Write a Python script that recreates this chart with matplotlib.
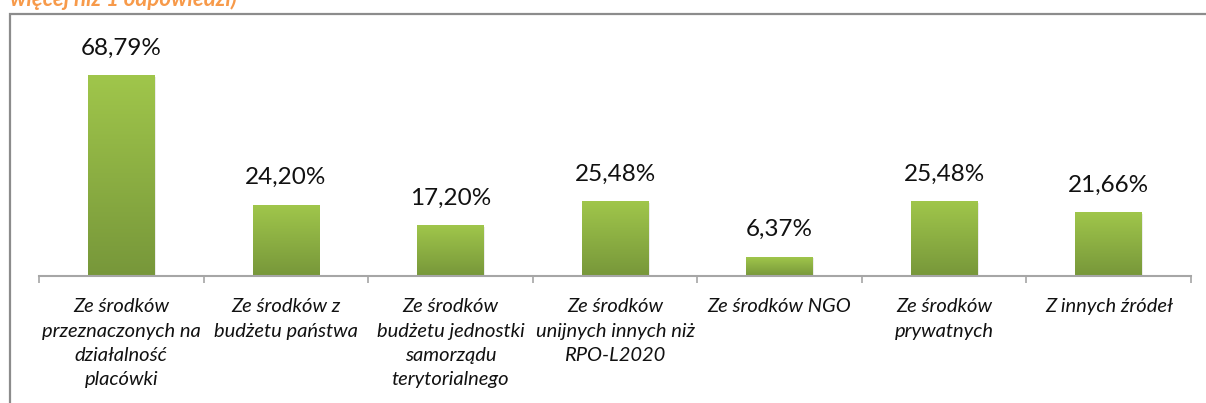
import numpy as np
import matplotlib
matplotlib.use("Agg")
import matplotlib.pyplot as plt
from matplotlib.colors import LinearSegmentedColormap
from matplotlib.patches import Rectangle

categories = [
    "Ze środków\nprzeznaczonych na\ndziałalność\nplacówki",
    "Ze środków z\nbudżetu państwa",
    "Ze środków\nbudżetu jednostki\nsamorządu\nterytorialnego",
    "Ze środków\nunijnych innych niż\nRPO-L2020",
    "Ze środków NGO",
    "Ze środków\nprywatnych",
    "Z innych źródeł",
]
values = [68.79, 24.20, 17.20, 25.48, 6.37, 25.48, 21.66]
value_labels = ["68,79%", "24,20%", "17,20%", "25,48%", "6,37%", "25,48%", "21,66%"]
title_fragment = "więcej niż 1 odpowiedzi)"

plt.rcParams['font.family'] = ['Lato', 'DejaVu Sans']

W, H = 1206, 403
fig = plt.figure(figsize=(W / 100, H / 100), dpi=100)
fig.patch.set_facecolor("white")

# outer border box (extends beyond right/bottom edges)
fig.patches.append(Rectangle((10 / W, -0.1), 1.2, (H - 14) / H + 0.1,
                             transform=fig.transFigure, fill=False,
                             edgecolor="#8c8c8c", linewidth=1.6))
# cut-off title fragment
fig.text(10 / W, 1 - 5.5 / H, title_fragment, color="#F79A4A", fontsize=16,
         fontweight="bold", fontstyle="italic", va="baseline", ha="left")

left, right = 39 / W, 1191 / W
bottom, top = (H - 276) / H, (H - 20) / H
ax = fig.add_axes([left, bottom, right - left, top - bottom])
for s in ["top", "left", "right"]:
    ax.spines[s].set_visible(False)
ax.spines["bottom"].set_color("#a6a6a6")
ax.spines["bottom"].set_linewidth(1.5)
ax.set_yticks([])

x = np.arange(len(values))
bars = ax.bar(x, values, width=0.405, color="none", edgecolor="none", zorder=2)

cmap = LinearSegmentedColormap.from_list("g", ["#77973A", "#A0C64B"])
grad = np.linspace(0, 1, 256).reshape(-1, 1)
for b in bars:
    x0, w, h = b.get_x(), b.get_width(), b.get_height()
    ax.add_patch(Rectangle((x0 + 0.008, 0), w, h - 0.3, facecolor="#ececec",
                           edgecolor="none", zorder=1.5))
    ax.imshow(grad, cmap=cmap, origin="lower", aspect="auto",
              extent=(x0, x0 + w, 0, h), zorder=2, interpolation="bicubic")
ax.set_xlim(-0.5, len(values) - 0.5)
ax.set_ylim(0, 88)

for b, lab in zip(bars, value_labels):
    ax.annotate(lab, (b.get_x() + b.get_width() / 2, b.get_height()),
                xytext=(0, 20), textcoords="offset points", ha="center",
                va="center", fontsize=17.5, color="#111111")

ax.set_xticks(x)
ax.set_xticklabels(categories, fontstyle="italic", fontsize=14.5,
                   linespacing=1.53, color="#111111")
ax.tick_params(axis="x", which="major", length=0, pad=16)
ax.set_xticks(np.arange(-0.5, len(values), 1.0), minor=True)
ax.tick_params(axis="x", which="minor", length=5, width=1.2, color="#a6a6a6")

fig.savefig("out.png", dpi=100, facecolor="white")
